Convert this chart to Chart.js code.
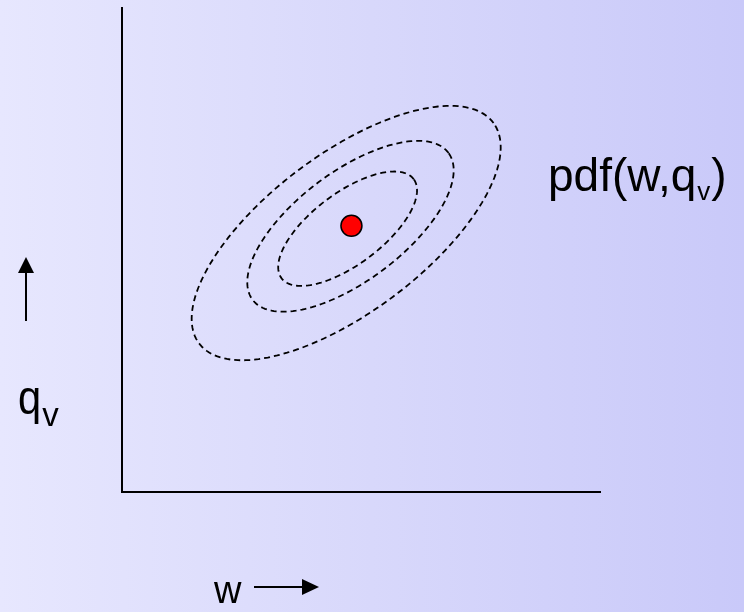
<!DOCTYPE html>
<html>
<head>
<meta charset="utf-8">
<script src="https://cdn.jsdelivr.net/npm/chart.js@4.4.1/dist/chart.umd.min.js"></script>
<style>
  html, body { margin: 0; padding: 0; }
  body {
    width: 744px; height: 612px; overflow: hidden;
    background: linear-gradient(to right, #e7e7fe 0%, #d8d8fb 50%, #c9c9f9 100%);
  }
  #wrap { position: relative; width: 744px; height: 612px; }
</style>
</head>
<body>
<div id="wrap"><canvas id="pdfChart" width="744" height="612"></canvas></div>
<script>
// mean of the joint pdf (w, q_v), axis units 0..10
const meanW = [4.80];
const meanQ = [5.50];

// dashed contour ellipses, inner -> outer
const contourW = [4.72, 4.78, 4.69];
const contourQ = [5.44, 5.49, 5.35];
const contourMajor = [1.72, 2.55, 3.83];
const contourMinor = [0.74, 1.13, 1.64];
const contourTilt = [36.4, 36.4, 36.4]; // degrees, counter-clockwise

const axisMin = 0;
const axisMax = 10;

const FONT = '"Liberation Sans", Arial, Helvetica, sans-serif';

// Contours drawn through the chart scales
const contourPlugin = {
  id: 'contours',
  beforeDatasetsDraw(chart) {
    const { ctx, scales: { x, y } } = chart;
    ctx.save();
    ctx.strokeStyle = '#000';
    ctx.lineWidth = 1.8;
    ctx.setLineDash([6, 4]);
    for (let k = 0; k < contourW.length; k++) {
      const th = contourTilt[k] * Math.PI / 180;
      const a = contourMajor[k], b = contourMinor[k];
      ctx.beginPath();
      const steps = 180;
      for (let i = 0; i <= steps; i++) {
        const t = i / steps * Math.PI * 2;
        const dw = a * Math.cos(t) * Math.cos(th) - b * Math.sin(t) * Math.sin(th);
        const dq = a * Math.cos(t) * Math.sin(th) + b * Math.sin(t) * Math.cos(th);
        const px = x.getPixelForValue(contourW[k] + dw);
        const py = y.getPixelForValue(contourQ[k] + dq);
        if (i === 0) ctx.moveTo(px, py); else ctx.lineTo(px, py);
      }
      ctx.closePath();
      ctx.stroke();
    }
    ctx.restore();
  }
};

// Labels and arrows
function subText(ctx, base, sub, tail, x, y, size, subSize, drop, sx) {
  ctx.save();
  ctx.translate(x, y);
  ctx.scale(sx, 1);
  ctx.font = size + 'px ' + FONT;
  ctx.fillText(base, 0, 0);
  const w = ctx.measureText(base).width;
  ctx.restore();
  ctx.font = subSize + 'px ' + FONT;
  const vx = x + w * sx + 1;
  ctx.fillText(sub, vx, y + drop);
  if (tail) {
    const tx = vx + ctx.measureText(sub).width + 1;
    ctx.font = size + 'px ' + FONT;
    ctx.fillText(tail, tx, y);
  }
}

const labelPlugin = {
  id: 'labels',
  afterDraw(chart) {
    const ctx = chart.ctx;
    ctx.save();
    ctx.fillStyle = '#000';
    ctx.strokeStyle = '#000';
    ctx.textBaseline = 'alphabetic';
    ctx.textAlign = 'left';

    subText(ctx, 'pdf(w,q', 'v', ')', 548, 191, 46, 26, 9, 1);
    subText(ctx, 'q', 'v', '', 18, 414, 49, 33, 12, 0.85);

    ctx.font = '38px ' + FONT;
    ctx.fillText('w', 214, 603);

    // up arrow
    ctx.lineWidth = 2;
    ctx.beginPath();
    ctx.moveTo(26, 321);
    ctx.lineTo(26, 270);
    ctx.stroke();
    ctx.beginPath();
    ctx.moveTo(26, 257);
    ctx.lineTo(18, 273);
    ctx.lineTo(34, 273);
    ctx.closePath();
    ctx.fill();

    // right arrow
    ctx.beginPath();
    ctx.moveTo(254, 587);
    ctx.lineTo(305, 587);
    ctx.stroke();
    ctx.beginPath();
    ctx.moveTo(319, 587);
    ctx.lineTo(302, 579);
    ctx.lineTo(302, 595);
    ctx.closePath();
    ctx.fill();
    ctx.restore();
  }
};

new Chart(document.getElementById('pdfChart'), {
  type: 'scatter',
  data: {
    datasets: [{
      label: 'mean',
      data: meanW.map((w, i) => ({ x: w, y: meanQ[i] })),
      backgroundColor: '#ff0000',
      borderColor: '#000000',
      borderWidth: 1.5,
      pointRadius: 10.5,
      pointHoverRadius: 10.5
    }]
  },
  options: {
    responsive: false,
    animation: false,
    events: [],
    layout: { autoPadding: false, padding: { left: 122, top: 8, right: 144, bottom: 120 } },
    scales: {
      x: {
        min: axisMin, max: axisMax,
        grid: { display: false, drawTicks: false },
        ticks: { display: false },
        border: { display: true, color: '#000', width: 2 }
      },
      y: {
        min: axisMin, max: axisMax,
        grid: { display: false, drawTicks: false },
        ticks: { display: false },
        border: { display: true, color: '#000', width: 2 }
      }
    },
    plugins: {
      legend: { display: false },
      tooltip: { enabled: false }
    }
  },
  plugins: [contourPlugin, labelPlugin]
});
</script>
</body>
</html>
